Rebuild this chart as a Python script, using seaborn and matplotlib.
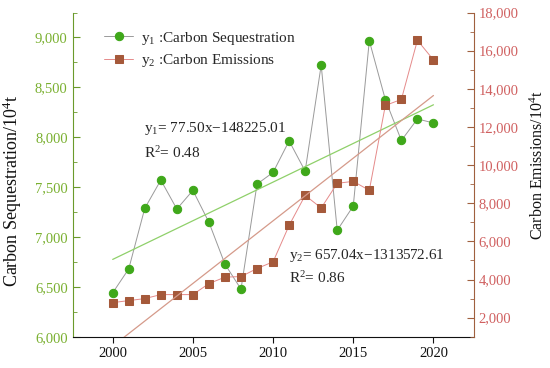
import numpy as np
import pandas as pd
import matplotlib
matplotlib.use("Agg")
import matplotlib.pyplot as plt
import matplotlib.ticker as mticker
import seaborn as sns

years = np.arange(2000, 2021)
sequestration = [6440, 6680, 7287, 7570, 7280, 7467, 7147, 6727, 6477, 7530, 7647,
                 7963, 7660, 8723, 7067, 7310, 8967, 8377, 7967, 8183, 8143]
emissions = [2788, 2894, 2999, 3209, 3209, 3209, 3787, 4123, 4155, 4575, 4928,
             6836, 8413, 7750, 9043, 9148, 8675, 13127, 13443, 16544, 15514]
fit1 = [77.50, -148225.01]
fit2 = [657.04, -1313572.61]
r2 = [0.48, 0.86]

df = pd.DataFrame({"year": years, "seq": sequestration, "emi": emissions})
df["fit1"] = fit1[0] * df["year"] + fit1[1]
df["fit2"] = fit2[0] * df["year"] + fit2[1]

sns.set_style("ticks")
plt.rcParams["font.family"] = ["Liberation Serif", "DejaVu Serif"]
plt.rcParams["mathtext.fontset"] = "custom"
plt.rcParams["mathtext.rm"] = "Liberation Serif"
plt.rcParams["mathtext.it"] = "Liberation Serif:italic"

GREEN = "#3fa81a"
GREEN_TXT = "#7ab030"
GREEN_SPINE = "#6b9a2b"
BROWN = "#a5593a"
RED_TXT = "#d06060"
RED_SPINE = "#a0603f"

fig = plt.figure(figsize=(5.5, 3.68), dpi=100)
ax = fig.add_axes([0.132, 0.085, 0.729, 0.881])
ax2 = ax.twinx()

sns.lineplot(data=df, x="year", y="seq", ax=ax, color="#9a9a9a", lw=0.7,
             marker="o", markersize=6, markerfacecolor=GREEN, markeredgecolor=GREEN,
             label="y$_1$ :Carbon Sequestration", legend=False)
sns.lineplot(data=df, x="year", y="fit1", ax=ax, color="#8fd06a", lw=0.9, legend=False)

sns.lineplot(data=df, x="year", y="emi", ax=ax2, color="#e58a8a", lw=0.7,
             marker="s", markersize=5.5, markerfacecolor=BROWN, markeredgecolor=BROWN,
             label="y$_2$ :Carbon Emissions", legend=False)
sns.lineplot(data=df, x="year", y="fit2", ax=ax2, color="#d59a8a", lw=0.9, legend=False)

ax.set_xlim(1997.5, 2022.5)
ax.set_ylim(6000, 9250)
ax2.set_ylim(1000, 18000)
ax.set_xticks([2000, 2005, 2010, 2015, 2020])
ax.yaxis.set_major_locator(mticker.MultipleLocator(500))
ax.yaxis.set_minor_locator(mticker.MultipleLocator(250))
ax2.yaxis.set_major_locator(mticker.FixedLocator(np.arange(2000, 18001, 2000)))
ax2.yaxis.set_minor_locator(mticker.FixedLocator(np.arange(1000, 18001, 1000)))
fmt = mticker.FuncFormatter(lambda v, p: f"{int(v):,}")
ax.yaxis.set_major_formatter(fmt)
ax2.yaxis.set_major_formatter(fmt)

ax.set_xlabel("")
ax.set_ylabel("Carbon Sequestration/10$^{4}$t", fontsize=13, color="#111111")
ax2.set_ylabel("Carbon Emissions/10$^{4}$t", fontsize=11.5, color="#111111")
ax.yaxis.set_label_coords(-0.122, 0.45)
ax2.yaxis.set_label_coords(1.14, 0.53)

for a in (ax, ax2):
    a.spines["top"].set_visible(False)
ax.spines["right"].set_visible(False)
ax.spines["left"].set_color(GREEN_SPINE)
ax2.spines["right"].set_color(RED_SPINE)
ax2.spines["left"].set_visible(False)
ax2.spines["bottom"].set_visible(False)
ax.spines["bottom"].set_color("#111111")

ax.tick_params(axis="x", direction="out", length=4, labelsize=10.5, colors="#111111")
ax.tick_params(axis="y", which="major", direction="in", length=5, labelsize=10.5,
               colors=GREEN_SPINE, labelcolor=GREEN_TXT)
ax.tick_params(axis="y", which="minor", direction="in", length=3, colors=GREEN_SPINE)
ax2.tick_params(axis="y", which="major", direction="in", length=5, labelsize=10.5,
                colors=RED_SPINE, labelcolor=RED_TXT)
ax2.tick_params(axis="y", which="minor", direction="in", length=3, colors=RED_SPINE)

h1, l1 = ax.get_legend_handles_labels()
h2, l2 = ax2.get_legend_handles_labels()
ax2.legend(h1 + h2, l1 + l2, loc="upper left", bbox_to_anchor=(0.045, 0.99),
           frameon=False, fontsize=11, handlelength=1.9, handletextpad=0.5,
           labelspacing=0.35)

fig.text(0.262, 0.652, f"y$_1$= {fit1[0]:.2f}x\u2212{-fit1[1]:.2f}", fontsize=11, va="center")
fig.text(0.262, 0.585, f"R$^2$= {r2[0]:.2f}", fontsize=11, va="center")
fig.text(0.525, 0.307, f"y$_2$= {fit2[0]:.2f}x\u2212{-fit2[1]:.2f}", fontsize=11, va="center")
fig.text(0.525, 0.245, f"R$^2$= {r2[1]:.2f}", fontsize=11, va="center")

fig.savefig("out.png", dpi=100)
